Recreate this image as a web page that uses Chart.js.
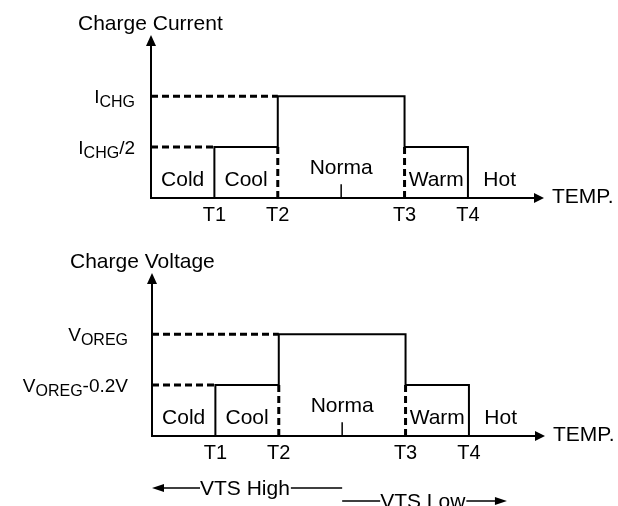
<!DOCTYPE html>
<html>
<head>
<meta charset="utf-8">
<script src="https://cdn.jsdelivr.net/npm/chart.js@4.4.1/dist/chart.umd.min.js"></script>
<style>
  html, body { margin: 0; padding: 0; background: #fff; }
  #wrap { position: relative; width: 618px; height: 506px; }
  canvas { position: absolute; left: 0; }
</style>
</head>
<body>
<div id="wrap">
  <canvas id="currentChart" width="618" height="240" style="top:0"></canvas>
  <canvas id="voltageChart" width="618" height="266" style="top:240px"></canvas>
</div>
<script>
// temperature thresholds T1..T4 on the x axis
const tempTicks = [1, 2, 4, 5];
const tempLabels = ['T1', 'T2', 'T3', 'T4'];
const regions = ['Cold', 'Cool', 'Norma', 'Warm', 'Hot'];
const regionEdges = [0, 1, 2, 4, 5, 6];

// level per region (0 = off, 1 = reduced, 2 = full)
const currentLevels = [0, 1, 2, 1, 0];
const voltageLevels = [0, 1, 2, 1, 0];
const levelTicks = [1, 2];
const currentTickLabels = [[['I'], ['CHG', 'sub'], ['/2']], [['I'], ['CHG', 'sub']]];
const voltageTickLabels = [[['V'], ['OREG', 'sub'], ['-0.2V']], [['V'], ['OREG', 'sub']]];

const vtsLabels = ['VTS High', 'VTS Low'];
const vtsSpans = [[0, 3], [3, 5.6]];

const FONT = '"Liberation Sans", Arial, sans-serif';

function stepData(levels) {
  const pts = [];
  tempTicks.forEach((t, i) => {
    pts.push({x: t, y: levels[i]}, {x: t, y: levels[i + 1]});
  });
  return pts;
}

function guideData(levels) {
  const sets = [];
  levelTicks.forEach(v => {
    const i = levels.findIndex(l => l >= v);
    sets.push([{x: 0, y: v}, {x: tempTicks[i - 1], y: v}]);
  });
  tempTicks.forEach((t, i) => {
    const lo = Math.min(levels[i], levels[i + 1]);
    if (lo > 0) sets.push([{x: t, y: 0}, {x: t, y: lo}]);
  });
  return sets;
}

function arrow(ctx, x, y, dir, len, half) {
  ctx.beginPath();
  ctx.moveTo(x, y);
  if (dir === 'right') { ctx.lineTo(x - len, y - half); ctx.lineTo(x - len, y + half); }
  if (dir === 'left') { ctx.lineTo(x + len, y - half); ctx.lineTo(x + len, y + half); }
  if (dir === 'up') { ctx.lineTo(x - half, y + len); ctx.lineTo(x + half, y + len); }
  ctx.closePath();
  ctx.fill();
}

function drawRich(ctx, parts, right, y) {
  const fonts = parts.map(p => (p[1] === 'sub' ? '16px ' : '19px ') + FONT);
  let w = 0;
  parts.forEach((p, i) => { ctx.font = fonts[i]; w += ctx.measureText(p[0]).width; });
  let x = right - w;
  parts.forEach((p, i) => {
    ctx.font = fonts[i];
    ctx.fillText(p[0], x, y + (p[1] === 'sub' ? 11 : 6.5));
    x += ctx.measureText(p[0]).width;
  });
}

const diagramPlugin = {
  id: 'diagram',
  afterDatasetsDraw(chart, args, o) {
    const {ctx, scales: {x, y}} = chart;
    const x0 = x.getPixelForValue(0), y0 = y.getPixelForValue(0);
    const xEnd = x.getPixelForValue(x.max), yTop = y.getPixelForValue(y.max);
    ctx.save();
    ctx.strokeStyle = '#000';
    ctx.fillStyle = '#000';
    ctx.lineWidth = 2;
    ctx.setLineDash([]);
    ctx.beginPath();
    ctx.moveTo(x0, y0); ctx.lineTo(xEnd - 8, y0);
    ctx.moveTo(x0, y0 + 1); ctx.lineTo(x0, yTop + 8);
    ctx.stroke();
    arrow(ctx, xEnd, y0, 'right', 10, 5);
    arrow(ctx, x0, yTop, 'up', 11, 5);

    ctx.textBaseline = 'alphabetic';
    ctx.font = '21px ' + FONT;
    ctx.textAlign = 'left';
    ctx.fillText(o.title, x0 + o.titleDx, yTop - 5);
    ctx.fillText('TEMP.', xEnd + 8, y0 + 5);

    ctx.textAlign = 'center';
    regions.forEach((r, i) => {
      const cx = x.getPixelForValue((regionEdges[i] + regionEdges[i + 1]) / 2);
      ctx.fillText(r, cx, y0 - (r === 'Norma' ? 24 : 12));
    });
    ctx.font = '20px ' + FONT;
    tempTicks.forEach((t, i) => ctx.fillText(tempLabels[i], x.getPixelForValue(t), y0 + 23));

    ctx.textAlign = 'left';
    levelTicks.forEach((v, i) => drawRich(ctx, o.yLabels[i], x0 - o.labelGap, y.getPixelForValue(v)));

    if (o.vts) {
      ctx.font = '21px ' + FONT;
      ctx.lineWidth = 1.5;
      vtsSpans.forEach((s, i) => {
        const a = x.getPixelForValue(s[0]), b = x.getPixelForValue(s[1]);
        const ly = y0 + (i === 0 ? 52 : 65);
        const tw = ctx.measureText(vtsLabels[i]).width;
        const tx = a + (i === 0 ? 48 : 38);
        ctx.fillText(vtsLabels[i], tx, ly + 7);
        ctx.beginPath();
        if (i === 0) {
          ctx.moveTo(a + 10, ly); ctx.lineTo(tx, ly);
          ctx.moveTo(tx + tw + 1, ly); ctx.lineTo(b, ly);
        } else {
          ctx.moveTo(a, ly); ctx.lineTo(tx, ly);
          ctx.moveTo(tx + tw + 1, ly); ctx.lineTo(b - 10, ly);
        }
        ctx.stroke();
        if (i === 0) arrow(ctx, a, ly, 'left', 12, 4);
        else arrow(ctx, b, ly, 'right', 12, 4);
      });
    }
    ctx.restore();
  }
};

function makeChart(id, levels, yLabels, title, titleDx, labelGap, padding, vts) {
  const mid = (tempTicks[1] + tempTicks[2]) / 2;
  const datasets = [
    ...guideData(levels).map(d => ({data: d, borderWidth: 3, borderDash: [7, 4]})),
    {data: stepData(levels), borderWidth: 2},
    {data: [{x: mid, y: 0}, {x: mid, y: 0.27}], borderWidth: 1.5}
  ];
  return new Chart(document.getElementById(id), {
    type: 'scatter',
    data: {
      datasets: datasets.map(d => Object.assign({
        showLine: true, pointRadius: 0, borderColor: '#000', fill: false, clip: 6
      }, d))
    },
    options: {
      responsive: false,
      animation: false,
      events: [],
      layout: { padding: padding },
      plugins: {
        legend: { display: false },
        tooltip: { enabled: false },
        diagram: { title, titleDx, labelGap, yLabels, vts }
      },
      scales: {
        x: { type: 'linear', min: 0, max: 6.2, display: false },
        y: { type: 'linear', min: 0, max: 3.2, display: false }
      }
    },
    plugins: [diagramPlugin]
  });
}

makeChart('currentChart', currentLevels, currentTickLabels, 'Charge Current', -73, 16,
  {left: 151, right: 74, top: 35, bottom: 42}, false);
makeChart('voltageChart', voltageLevels, voltageTickLabels, 'Charge Voltage', -82, 24,
  {left: 152, right: 73, top: 33, bottom: 70}, true);
</script>
</body>
</html>
